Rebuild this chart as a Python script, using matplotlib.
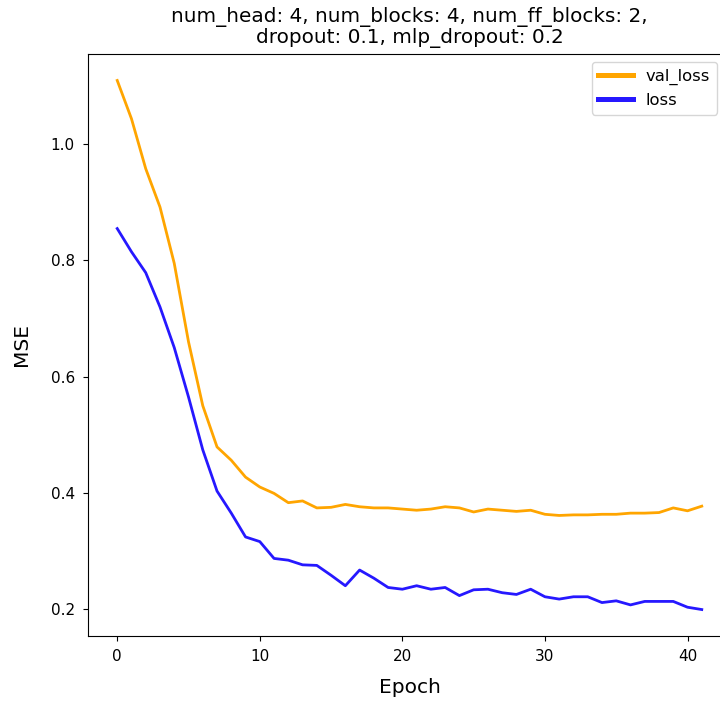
import numpy as np
import matplotlib.pyplot as plt

epochs = np.arange(42)
val_loss = [1.110, 1.044, 0.958, 0.892, 0.795, 0.660, 0.550, 0.479, 0.456, 0.427,
            0.410, 0.399, 0.383, 0.386, 0.374, 0.375, 0.380, 0.376, 0.374, 0.374,
            0.372, 0.370, 0.372, 0.376, 0.374, 0.367, 0.372, 0.370, 0.368, 0.370,
            0.363, 0.361, 0.362, 0.362, 0.363, 0.363, 0.365, 0.365, 0.366, 0.374,
            0.369, 0.377]
loss = [0.855, 0.815, 0.779, 0.720, 0.650, 0.565, 0.474, 0.403, 0.365, 0.324,
        0.316, 0.287, 0.284, 0.276, 0.275, 0.258, 0.240, 0.267, 0.253, 0.237,
        0.234, 0.240, 0.234, 0.237, 0.223, 0.233, 0.234, 0.228, 0.225, 0.234,
        0.221, 0.217, 0.221, 0.221, 0.211, 0.214, 0.207, 0.213, 0.213, 0.213,
        0.203, 0.199]

fig = plt.figure(figsize=(7.2, 7.02), dpi=100)
# the axes runs a little past the right edge of the figure, as in the original
ax = fig.add_axes([88 / 720, 66 / 702, 643 / 720, 582 / 702])

ax.plot(epochs, val_loss, color='orange', lw=2, label='val_loss')
ax.plot(epochs, loss, color='#2618ff', lw=2, label='loss')

ax.spines['right'].set_visible(False)
ax.tick_params(labelsize=11, pad=6)
ax.set_xlabel('Epoch', fontsize=14.5, labelpad=10)
ax.set_ylabel('MSE', fontsize=14.5, labelpad=14)
ax.set_title('num_head: 4, num_blocks: 4, num_ff_blocks: 2,\ndropout: 0.1, mlp_dropout: 0.2',
             fontsize=14.4, linespacing=1.05, pad=8)
ax.set_yticks([0.2, 0.4, 0.6, 0.8, 1.0])

leg = ax.legend(loc='upper right', bbox_to_anchor=((725 - 88) / 643, 1), fontsize=11.8,
                handlelength=2.1)
for h in leg.legend_handles:
    h.set_linewidth(3.6)

fig.savefig('out.png', dpi=100)
